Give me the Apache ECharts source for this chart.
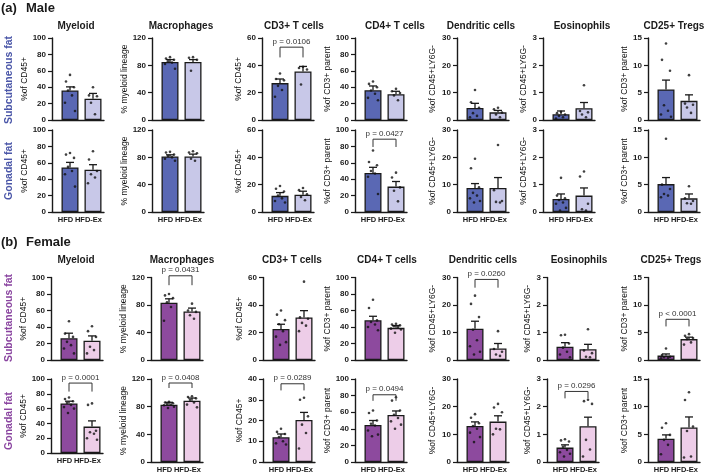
<!DOCTYPE html>
<html>
<head>
<meta charset="utf-8">
<script src="https://cdn.jsdelivr.net/npm/echarts@6/dist/echarts.min.js"></script>
<style>
  html, body { margin: 0; padding: 0; background: #fff; }
  #chart { width: 709px; height: 476px; }
</style>
</head>
<body>
<div id="chart"></div>
<script>
const groups = ['HFD', 'HFD-Ex'];
const cellTypes = ['Myeloid', 'Macrophages', 'CD3+ T cells', 'CD4+ T cells', 'Dendritic cells', 'Eosinophils', 'CD25+ Tregs'];
const yNames = ['%of CD45+', '% myeloid lineage', '%of CD45+', '%of CD3+ parent', '%of CD45+LY6G-', '%of CD45+LY6G-', '%of CD3+ parent'];

// axis max / tick step, one row per panel row
const yMax = [
  [100, 120, 60, 100, 30, 3, 15],
  [100, 120, 60, 100, 30, 3, 15],
  [100, 120, 60, 100, 30, 3, 15],
  [100, 120, 40, 100, 30, 3, 15]
];
const yStep = [
  [20, 40, 20, 20, 10, 1, 5],
  [20, 40, 20, 20, 10, 1, 5],
  [20, 40, 20, 20, 10, 1, 5],
  [20, 40, 10, 20, 10, 1, 5]
];

// male, subcutaneous fat  [HFD, HFD-Ex]
const maleScMean = [[36, 26], [85, 85], [27, 35.5], [36.3, 31.5], [4.4, 2.8], [0.21, 0.43], [5.6, 3.5]];
const maleScSem = [[4.4, 6.4], [3.4, 3.4], [3, 3.7], [5.2, 3.5], [1.7, 0.7], [0.12, 0.21], [1.7, 1.1]];
const maleScDots = [
  [[55, 47, 40, 36, 30, 21, 11], [40, 30, 29, 21, 7]],
  [[92, 90, 88, 86, 84, 82, 75], [92, 91, 88, 72]],
  [[34, 30, 29, 25, 22, 17], [39, 38, 37, 26]],
  [[47, 44, 40, 36, 32, 27, 24], [38, 35, 33, 30, 24]],
  [[11, 6.5, 4.5, 2.5, 1.5, 1], [4.5, 3.9, 2.7, 2, 1]],
  [[0.3, 0.25, 0.2, 0.15, 0.1, 0.05], [1.27, 0.33, 0.28, 0.2, 0.1]],
  [[14, 11, 9, 2.7, 1.7, 1, 0.6], [8.2, 3, 2.8, 2.3, 1.3]]
];
const maleScP = [null, null, ['p = 0.0106', 53.3, 45.8], null, null, null, null];

// male, gonadal fat
const maleGonMean = [[54.4, 51.6], [81.3, 81.3], [11.8, 12.7], [47.5, 31], [8.8, 8.8], [0.48, 0.6], [5.1, 2.5]];
const maleGonSem = [[6.1, 6.1], [2.4, 3.4], [2.4, 2.5], [7, 6.2], [1.6, 3.8], [0.18, 0.28], [1.2, 0.8]];
const maleGonDots = [
  [[72, 70, 66, 55, 50, 46, 31], [74, 64, 50, 46, 42, 35]],
  [[88, 87, 84, 82, 80, 78, 75], [89, 87, 86, 78, 75]],
  [[19, 17, 15, 12, 10, 8, 7], [17.6, 16, 13, 11, 8.6]],
  [[75, 61, 57, 50, 47, 43, 22], [48, 42, 30, 26, 13]],
  [[19.5, 16, 9, 7, 6, 5, 4, 3.5], [24.5, 8, 4, 3.7, 3.5]],
  [[1.25, 0.6, 0.5, 0.44, 0.35, 0.3, 0.15, 0.05], [1.48, 1.3, 0.3, 0.1, 0.05]],
  [[13.4, 5, 4.2, 3.3, 3, 2.7], [4.7, 2.5, 2, 1.6, 1.5]]
];
const maleGonP = [null, null, null, ['p = 0.0427', 88.8, 79.3], null, null, null];

// female, subcutaneous fat
const femScMean = [[26.3, 23.3], [83.3, 70.6], [22.5, 31], [48.2, 39], [11.4, 4.2], [0.48, 0.39], [0.8, 3.8]];
const femScSem = [[6.2, 5.9], [5.7, 4.9], [3.5, 4.9], [4.8, 2.8], [2.7, 1.8], [0.15, 0.18], [0.3, 0.35]];
const femScDots = [
  [[47, 32, 28, 22, 18, 14, 8], [41, 35, 28, 16, 12, 8]],
  [[96, 94, 90, 84, 77, 57], [82, 72, 70, 65, 60]],
  [[36, 33, 29, 26, 21, 17, 13, 11], [57, 31, 30, 27, 25, 21]],
  [[73, 63, 48, 46, 43, 40, 36], [44, 43, 42, 41, 40, 38, 37, 33]],
  [[23.4, 20.4, 15.6, 11, 7.2, 5, 3, 2], [10.5, 4, 3, 2, 1.5]],
  [[0.92, 0.9, 0.6, 0.45, 0.3, 0.2, 0.1], [1.12, 0.35, 0.25, 0.12, 0.1]],
  [[2.1, 0.9, 0.6, 0.5, 0.4, 0.3], [4.7, 4.4, 4, 3.8, 3.2, 2.8]]
];
const femScP = [null, ['p = 0.0431', 122.5, 108.8], null, null, ['p = 0.0260', 29.3, 26.3], null, ['p < 0.0001', 7.4, 6.1]];

// female, gonadal fat
const femGonMean = [[67, 35.7], [82.9, 88.7], [11.9, 20.3], [44.5, 56.7], [13, 14.6], [0.52, 1.29], [4.2, 6.24]];
const femGonSem = [[3, 7.7], [3.4, 3.8], [1.6, 3.6], [5.5, 4.8], [1.5, 2.1], [0.1, 0.33], [0.7, 1.9]];
const femGonDots = [
  [[75, 73, 70, 68, 65, 62, 60, 54], [67, 65, 30, 28, 26, 20, 18]],
  [[87, 86, 85, 84, 83, 82, 80, 78], [95, 94, 92, 90, 86, 83, 79]],
  [[16, 14.5, 13.5, 12, 10, 9, 8.4], [31, 30, 22, 18, 14, 6.5]],
  [[62, 59, 50, 46, 44, 38, 33, 31], [78, 74, 62, 57, 53, 49, 45, 40]],
  [[17.3, 16, 14, 13, 12, 10.6, 9, 7.2], [21, 19.7, 18, 12, 11.8, 10]],
  [[0.82, 0.78, 0.74, 0.55, 0.44, 0.35, 0.3, 0.2], [2.25, 2.2, 2.1, 0.8, 0.45, 0.2]],
  [[7, 6.2, 4.9, 4, 3.1, 1.4], [12.6, 11.2, 6.4, 5.6, 1, 0.8]]
];
const femGonP = [['p = 0.0001', 94.5, 83], ['p = 0.0408', 114.2, 107], ['p = 0.0289', 37.7, 34.5], ['p = 0.0494', 81, 73.7], null, ['p = 0.0296', 2.55, 2.3], null];

const FONT = '"Liberation Sans", Arial, sans-serif';
const INK = '#1a1a1a';
const barColors = [['#5a68b4', '#c8c8e8'], ['#8d4a9e', '#edcde8']];
const labelColors = ['#4a56a8', '#8a45a0'];

const rows = [
  { sex: 0, label: 'Subcutaneous fat', mean: maleScMean, sem: maleScSem, dots: maleScDots, p: maleScP, top: 38, bottom: 120, labelY: 80 },
  { sex: 0, label: 'Gonadal fat', mean: maleGonMean, sem: maleGonSem, dots: maleGonDots, p: maleGonP, top: 130, bottom: 212, labelY: 171 },
  { sex: 1, label: 'Subcutaneous fat', mean: femScMean, sem: femScSem, dots: femScDots, p: femScP, top: 277.5, bottom: 360, labelY: 318 },
  { sex: 1, label: 'Gonadal fat', mean: femGonMean, sem: femGonSem, dots: femGonDots, p: femGonP, top: 379, bottom: 462, labelY: 421 }
];
const colX = [[52, 152, 262, 355, 457, 543, 648], [51, 151, 263, 355, 457, 547, 648]];
const titleX = [[76, 181, 294, 395, 481, 582, 674], [76, 182, 292, 387, 483, 579, 671]];
const titleY = [26, 260];
const nameGaps = [15, 20, 15, 15, 20, 11, 11];
const bandPx = 23, firstPx = 18, axisPx = 52;
const jit = [0, -4, 4, -2, 2, -5, 5, -1, 1, -3, 3];

const grid = [], xAxis = [], yAxis = [], series = [];
const graphic = [];

rows.forEach((row, r) => {
  for (let c = 0; c < 7; c++) {
    const gi = grid.length;
    const bottom = (r === 3 && c === 0) ? 453 : row.bottom;
    grid.push({ left: colX[row.sex][c], width: axisPx, top: row.top, height: bottom - row.top });
    xAxis.push({
      gridIndex: gi, type: 'value',
      min: -firstPx / bandPx, max: (axisPx - firstPx) / bandPx,
      axisLine: { show: true, onZero: false, lineStyle: { color: INK, width: 1.4 } },
      axisTick: { show: false },
      splitLine: { show: false },
      axisLabel: {
        show: r % 2 === 1, customValues: [0, 1],
        formatter: v => groups[Math.round(v)],
        fontSize: 7.5, fontWeight: 'bold', fontFamily: FONT, color: INK, margin: 4,
        padding: [0, 9, 0, 0]
      }
    });
    yAxis.push({
      gridIndex: gi, type: 'value', min: 0, max: yMax[r][c], interval: yStep[r][c],
      axisLine: { show: true, onZero: false, lineStyle: { color: INK, width: 1.4 } },
      axisTick: { show: true, length: 4, lineStyle: { color: INK, width: 1.2 } },
      splitLine: { show: false },
      axisLabel: { fontSize: 8, fontWeight: 'bold', fontFamily: FONT, color: INK, margin: 6 },
      name: yNames[c], nameLocation: 'middle', nameGap: nameGaps[c],
      nameTextStyle: { fontSize: 8.5, fontFamily: FONT, color: '#111' }
    });
    const cols = barColors[row.sex];
    series.push({
      type: 'bar', xAxisIndex: gi, yAxisIndex: gi, barWidth: 17,
      data: row.mean[c].map((m, g) => ({ value: [g, m], itemStyle: { color: cols[g] } })),
      itemStyle: { borderColor: INK, borderWidth: 1.3 },
      silent: true, z: 2
    });
    series.push({
      type: 'custom', xAxisIndex: gi, yAxisIndex: gi, z: 3, silent: true,
      data: row.mean[c].map((m, g) => [g, m, row.sem[c][g]]),
      encode: { x: 0, y: 1 },
      renderItem: (params, api) => {
        const g = api.value(0), m = api.value(1), s = api.value(2);
        const a = api.coord([g, m]), b = api.coord([g, m + s]);
        const st = { stroke: INK, lineWidth: 1.3 };
        return {
          type: 'group', children: [
            { type: 'line', shape: { x1: a[0], y1: a[1], x2: b[0], y2: b[1] }, style: st },
            { type: 'line', shape: { x1: b[0] - 4, y1: b[1], x2: b[0] + 4, y2: b[1] }, style: st }
          ]
        };
      }
    });
    const pts = [];
    row.dots[c].forEach((vals, g) => vals.forEach((v, i) => {
      pts.push({ value: [g, v], symbolOffset: [jit[i % jit.length], 0] });
    }));
    series.push({
      type: 'scatter', xAxisIndex: gi, yAxisIndex: gi, z: 4, silent: true,
      symbolSize: 2.6, itemStyle: { color: '#111' }, data: pts
    });
    const p = row.p[c];
    if (p) {
      series.push({
        type: 'custom', xAxisIndex: gi, yAxisIndex: gi, z: 5, silent: true, clip: false,
        data: [[0, p[1], p[2]]],
        encode: { x: 0, y: 1 },
        renderItem: (params, api) => {
          const a = api.coord([0, api.value(1)]);
          const b = api.coord([1, api.value(1)]);
          const l = api.coord([0, api.value(2)]);
          return {
            type: 'group', children: [
              { type: 'polyline', shape: { points: [[a[0], l[1]], a, b, [b[0], l[1]]] },
                style: { stroke: '#333', lineWidth: 1, fill: null } },
              { type: 'text', x: (a[0] + b[0]) / 2, y: a[1] - 1.5,
                style: { text: p[0], fill: '#333', font: '8px ' + FONT,
                  align: 'center', verticalAlign: 'bottom', textAlign: 'center', textVerticalAlign: 'bottom' } }
            ]
          };
        }
      });
    }
  }
  // row label
  graphic.push({
    type: 'text', x: 9, y: row.labelY, rotation: Math.PI / 2,
    style: { text: row.label, fill: labelColors[row.sex], font: 'bold 10.5px ' + FONT,
      align: 'center', verticalAlign: 'middle', textAlign: 'center', textVerticalAlign: 'middle' }
  });
});

// column titles
[0, 1].forEach(s => {
  cellTypes.forEach((t, c) => {
    graphic.push({
      type: 'text', x: titleX[s][c], y: titleY[s],
      style: { text: t, fill: INK, font: 'bold 10px ' + FONT,
        align: 'center', verticalAlign: 'middle', textAlign: 'center', textVerticalAlign: 'middle' }
    });
  });
});

// section labels
[['(a)', 'Male', 8], ['(b)', 'Female', 242]].forEach(([tag, sex, y]) => {
  graphic.push({ type: 'text', x: 1, y, style: { text: tag, fill: INK, font: 'bold 13px ' + FONT, verticalAlign: 'middle', textVerticalAlign: 'middle' } });
  graphic.push({ type: 'text', x: 26, y, style: { text: sex, fill: INK, font: 'bold 13px ' + FONT, verticalAlign: 'middle', textVerticalAlign: 'middle' } });
});

const chart = echarts.init(document.getElementById('chart'), null, { renderer: 'canvas' });
chart.setOption({
  backgroundColor: '#fff',
  animation: false,
  grid, xAxis, yAxis, series, graphic
});
</script>
</body>
</html>
